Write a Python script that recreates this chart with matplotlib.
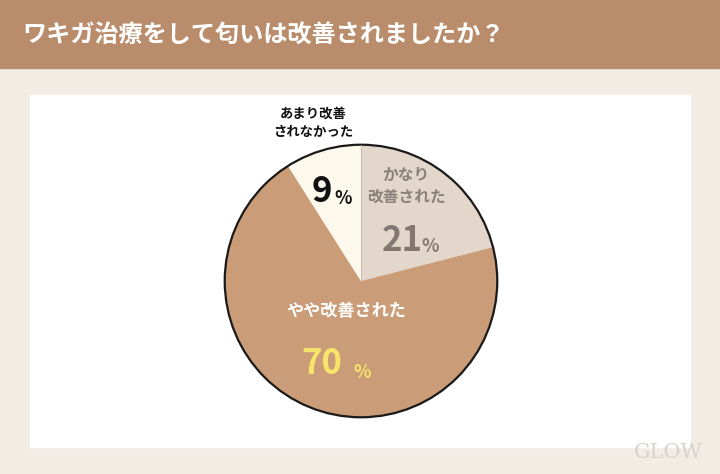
import matplotlib.pyplot as plt
from matplotlib.patches import Rectangle, Circle

plt.rcParams['font.family'] = ['Noto Sans CJK JP', 'DejaVu Sans']

title = 'ワキガ治療をして匂いは改善されましたか？'
labels = ['かなり\n改善された', 'やや改善された', 'あまり改善\nされなかった']
values = [21, 70, 9]
colors = ['#e3d6ca', '#ca9c77', '#fdf8ec']

fig = plt.figure(figsize=(7.2, 4.74), dpi=100)
fig.patch.set_facecolor('#f2ece5')

# background layer in pixel coords
bg = fig.add_axes([0, 0, 1, 1])
bg.set_xlim(0, 720)
bg.set_ylim(474, 0)
bg.axis('off')
bg.add_patch(Rectangle((0, 0), 720, 68, color='#b98d6c'))
bg.add_patch(Rectangle((30, 95), 660, 352, color='white'))
bg.text(22, 36, title, color='white', fontsize=17.4, fontweight='bold',
        ha='left', va='center')
bg.text(668, 452, 'GLOW', color='#d8d2cc', fontsize=15, ha='center', va='center',
        fontfamily='DejaVu Serif')

# pie
cx, cy, r = 361, 281, 139
ax = fig.add_axes([(cx - r) / 720, (474 - cy - r) / 474, 2 * r / 720, 2 * r / 474])
wedges, _ = ax.pie(values, colors=colors, startangle=90, counterclock=False,
                   wedgeprops=dict(linewidth=0))
ax.add_patch(Circle((0, 0), 1, fill=False, edgecolor='#1a1a1a', linewidth=1.6))
ax.plot([0, 0], [0, 1], color='#bfb5aa', linewidth=0.6)
ax.set_xlim(-1.02, 1.02)
ax.set_ylim(-1.02, 1.02)
ax.axis('off')

# text overlay on top of the pie
top = fig.add_axes([0, 0, 1, 1])
top.set_xlim(0, 720)
top.set_ylim(474, 0)
top.axis('off')
top.patch.set_alpha(0)

top.text(406, 186, labels[0], color='#8a817a', fontsize=11.3, fontweight='bold',
         ha='center', va='center', linespacing=1.45)
top.text(402, 240, str(values[0]), color='#827871', fontsize=25, fontweight='bold',
         ha='center', va='center')
top.text(430, 246, '%', color='#827871', fontsize=13, fontweight='bold',
         ha='center', va='center')

top.text(346, 311, labels[1], color='white', fontsize=12.3, fontweight='bold',
         ha='center', va='center')
top.text(322, 364, str(values[1]), color='#f7e46b', fontsize=25, fontweight='bold',
         ha='center', va='center')
top.text(362, 372, '%', color='#f7e46b', fontsize=13, fontweight='bold',
         ha='center', va='center')

top.text(313, 123, labels[2], color='#111111', fontsize=9.6, fontweight='bold',
         ha='center', va='center', linespacing=1.4)
top.text(322, 191, str(values[2]), color='#111111', fontsize=25, fontweight='bold',
         ha='center', va='center')
top.text(343, 198, '%', color='#111111', fontsize=13, fontweight='bold',
         ha='center', va='center')

fig.savefig('out.png', dpi=100, facecolor=fig.get_facecolor())
